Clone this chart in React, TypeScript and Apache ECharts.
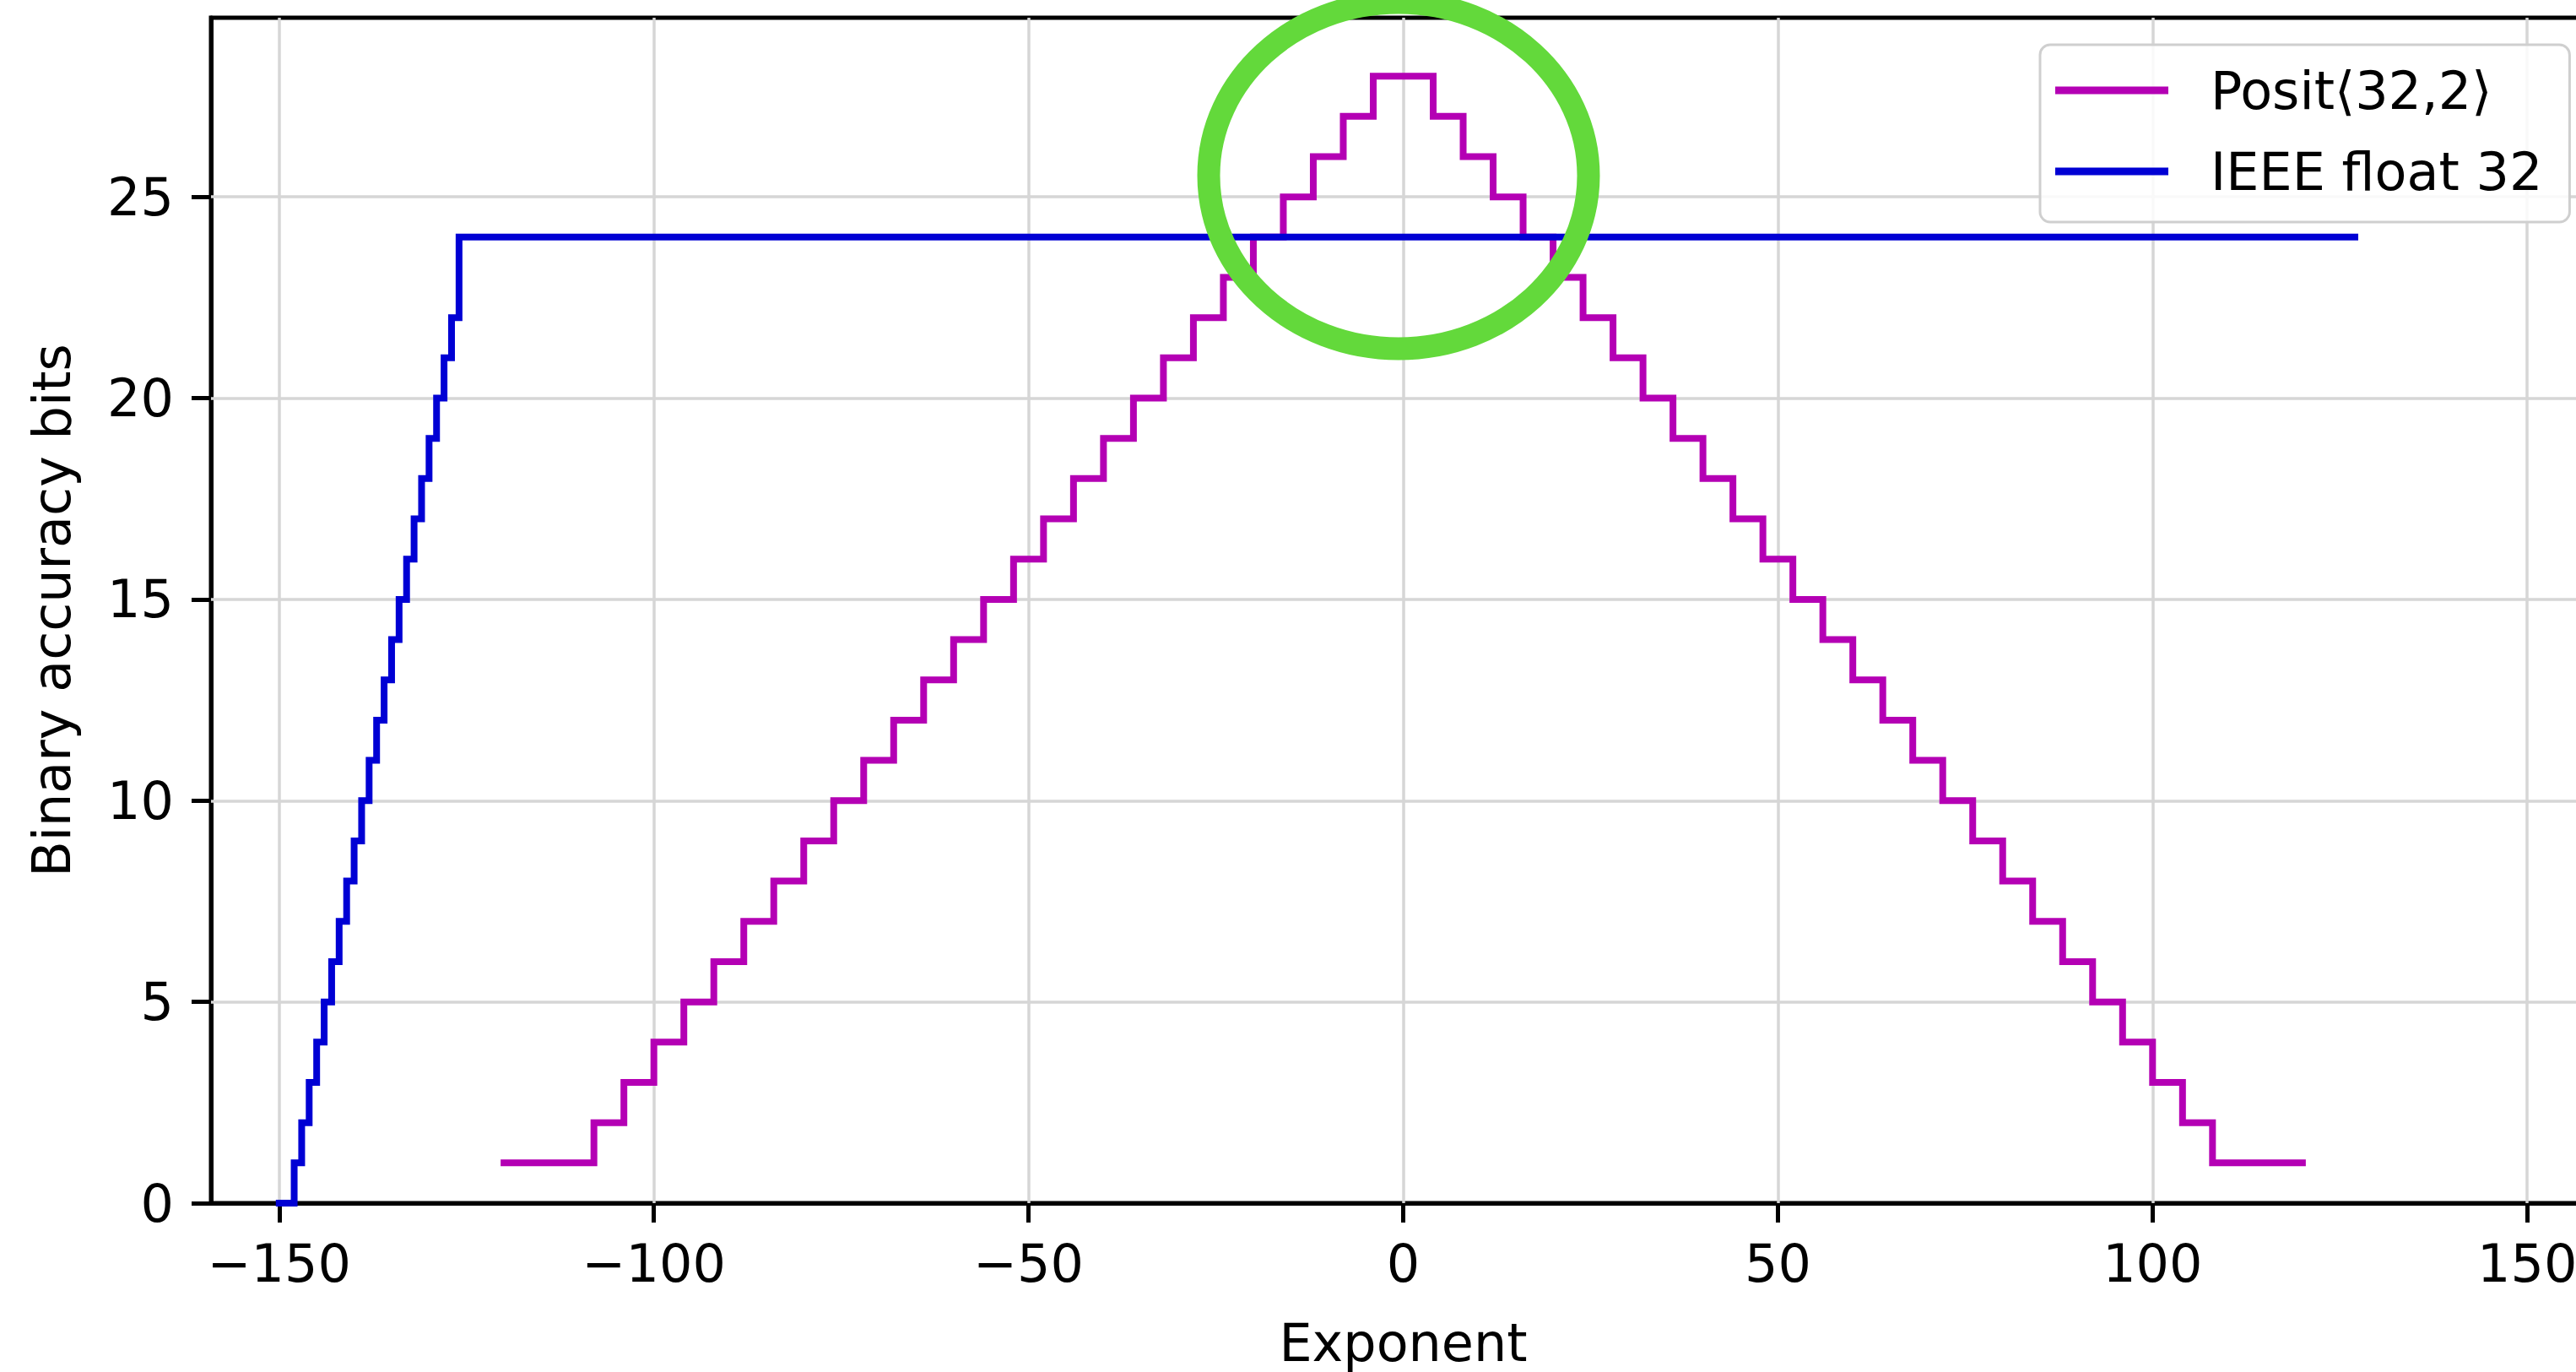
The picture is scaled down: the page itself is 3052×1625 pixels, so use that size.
import React, { useEffect, useRef } from "react";
import * as echarts from "echarts";

// ---- Data ----
const posX = [-120, -108, -104, -100, -96, -92, -88, -84, -80, -76, -72, -68, -64, -60, -56, -52, -48, -44, -40, -36, -32, -28, -24, -20, -16, -12, -8, -4, 4, 8, 12, 16, 20, 24, 28, 32, 36, 40, 44, 48, 52, 56, 60, 64, 68, 72, 76, 80, 84, 88, 92, 96, 100, 104, 108, 120];
const posY = [1, 2, 3, 4, 5, 6, 7, 8, 9, 10, 11, 12, 13, 14, 15, 16, 17, 18, 19, 20, 21, 22, 23, 24, 25, 26, 27, 28, 27, 26, 25, 24, 23, 22, 21, 20, 19, 18, 17, 16, 15, 14, 13, 12, 11, 10, 9, 8, 7, 6, 5, 4, 3, 2, 1, 1];

const ieeeX = [-150, -148, -147, -146, -145, -144, -143, -142, -141, -140, -139, -138, -137, -136, -135, -134, -133, -132, -131, -130, -129, -128, -127, -126, 127];
const ieeeY = [0, 1, 2, 3, 4, 5, 6, 7, 8, 9, 10, 11, 12, 13, 14, 15, 16, 17, 18, 19, 20, 21, 22, 24, 24];

const xTicks = [-150, -100, -50, 0, 50, 100, 150];
const yTicks = [0, 5, 10, 15, 20, 25];

const seriesNames = ["Posit\u27E832,2\u27E9", "IEEE float 32"];
const xLabel = "Exponent";
const yLabel = "Binary accuracy bits";

const FONT = "'DejaVu Sans', sans-serif";
const MAGENTA = "#b400b4";
const BLUE = "#0000d4";

const minus = (v: number) => String(v).replace("-", "\u2212");

export default function App() {
  const ref = useRef<HTMLDivElement>(null);

  useEffect(() => {
    document.body.style.margin = "0";
    const chart = echarts.init(ref.current!, null, { renderer: "svg" });

    const option: any = {
      animation: false,
      backgroundColor: "#ffffff",
      grid: {
        left: 250,
        top: 21,
        right: -23,
        bottom: 200,
        containLabel: false,
        outerBoundsMode: "none",
        show: true,
        borderColor: "#000000",
        borderWidth: 5,
        backgroundColor: "transparent",
      },
      xAxis: {
        type: "value",
        min: -159.1,
        max: 159.1,
        name: xLabel,
        nameLocation: "middle",
        nameGap: 134,
        nameTextStyle: { fontSize: 62, fontFamily: FONT, color: "#000" },
        axisLine: { show: true, onZero: false, lineStyle: { color: "#000", width: 5 } },
        axisTick: { show: true, inside: false, length: 23, lineStyle: { color: "#000", width: 5 }, customValues: xTicks },
        axisLabel: {
          show: true,
          margin: 40,
          fontSize: 62,
          fontFamily: FONT,
          color: "#000",
          customValues: xTicks,
          formatter: (v: number) => minus(v),
        },
        splitLine: { show: false },
      },
      yAxis: {
        type: "value",
        min: 0,
        max: 29.45,
        name: yLabel,
        nameLocation: "middle",
        nameRotate: 90,
        nameGap: 158,
        nameTextStyle: { fontSize: 62, fontFamily: FONT, color: "#000" },
        axisLine: { show: true, onZero: false, lineStyle: { color: "#000", width: 5 } },
        axisTick: { show: true, inside: false, length: 23, lineStyle: { color: "#000", width: 5 }, customValues: yTicks },
        axisLabel: {
          show: true,
          margin: 44,
          fontSize: 62,
          fontFamily: FONT,
          color: "#000",
          customValues: yTicks,
          formatter: (v: number) => minus(v),
        },
        splitLine: { show: false },
      },
      legend: {
        data: seriesNames,
        orient: "vertical",
        left: 2417,
        top: 53,
        padding: [18, 32, 24, 18],
        itemGap: 24,
        itemWidth: 134,
        itemHeight: 9,
        icon: "rect",
        textStyle: { fontSize: 62, fontFamily: FONT, color: "#000", padding: [0, 0, 0, 45], lineHeight: 72 },
        backgroundColor: "rgba(255,255,255,0.85)",
        borderColor: "#cfcfcf",
        borderWidth: 3,
        borderRadius: 12,
        z: 20,
      },
      series: [
        {
          name: "gridlines",
          type: "line",
          data: [],
          z: 1,
          silent: true,
          markLine: {
            silent: true,
            symbol: ["none", "none"],
            label: { show: false },
            lineStyle: { color: "#d6d6d6", width: 3.5, type: "solid" },
            emphasis: { disabled: true },
            data: [
              ...xTicks.map((v) => ({ xAxis: v })),
              ...yTicks.filter((v) => v > 0).map((v) => ({ yAxis: v })),
            ],
          },
        },
        {
          name: seriesNames[0],
          type: "line",
          step: "end",
          symbol: "none",
          z: 5,
          color: MAGENTA,
          lineStyle: { color: MAGENTA, width: 8, cap: "square", join: "miter" },
          data: posX.map((x, i) => [x, posY[i]]),
        },
        {
          name: seriesNames[1],
          type: "line",
          step: "end",
          symbol: "none",
          z: 6,
          color: BLUE,
          lineStyle: { color: BLUE, width: 8, cap: "square", join: "miter" },
          data: ieeeX.map((x, i) => [x, ieeeY[i]]),
        },
      ],
      graphic: [
        {
          type: "ellipse",
          z: 100,
          silent: true,
          shape: { cx: 1657, cy: 208, rx: 225, ry: 205 },
          style: { fill: "none", stroke: "#63d93b", lineWidth: 27 },
        },
      ],
    };

    chart.setOption(option);
    return () => chart.dispose();
  }, []);

  return (
    <div
      ref={ref}
      style={{ position: "absolute", left: 0, top: 0, width: 3052, height: 1625 }}
    />
  );
}
